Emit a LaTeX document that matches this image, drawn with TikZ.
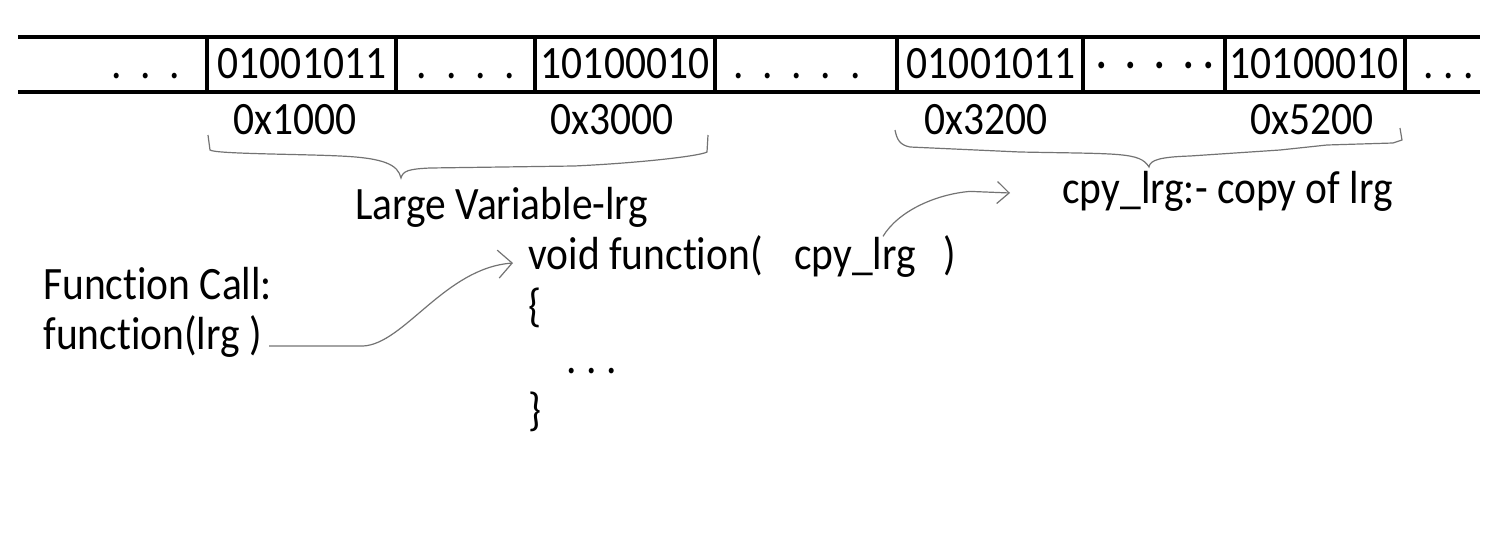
\documentclass[tikz,border=0pt]{standalone}
\usepackage{fontspec}
\setmainfont[Ligatures=NoCommon,FakeStretch=0.894]{Carlito}
\usetikzlibrary{arrows.meta}

\begin{document}
\begin{tikzpicture}[x=0.5pt,y=-0.5pt,
   font=\fontsize{23.2pt}{28pt}\selectfont,
   txt/.style={inner sep=0pt,anchor=base},
   txtl/.style={inner sep=0pt,anchor=base west},
   hand/.style={black!55,line width=0.6pt},
   rule/.style={line width=2pt},
   wall/.style={line width=1.6pt}]
   \useasboundingbox (0,0) rectangle (1500,541);
   % memory strip
   \draw[rule] (18,37) -- (1480,37);
   \draw[rule] (18,92) -- (1480,92);
   \foreach \x in {207,396,535,715,897,1083,1225,1405} {
    \draw[wall] (\x,37) -- (\x,92);
   }
   \foreach \x/\t [count=\i] in {146/{.~~.~~.},302/01001011,466/{.~~.~~.~~.},
      625/10100010,797/{.~~.~~.~~.~~.},991/01001011,1155/{·~~·~~·~~·~·},
      1314/10100010,1449/{.~.~.}} {
    \node[txt] (cell\i) at (\x,78) {\t};
   }
   \foreach \x/\t in {295/1000,612/3000,986/3200,1312/5200} {
    \node[txt] (a\t) at (\x,134) {0x\t};
   }
   % braces
   \draw[hand] (208,135) -- (210,150) .. controls (215,154) and (300,154) .. (340,156)
      .. controls (385,158) and (398,165) .. (401,178)
      .. controls (403,171) and (408,169) .. (430,168) -- (574,166)
      .. controls (640,163) and (700,156) .. (707,152) -- (708,135);
   \draw[hand] (895,130) .. controls (897,140) and (900,145) .. (910,147) -- (1020,152)
      .. controls (1120,154) and (1140,152) .. (1149,167)
      .. controls (1150,160) and (1160,157) .. (1190,156) -- (1280,150)
      -- (1327,145) -- (1393,143) -- (1402,140) -- (1400,128);
   \node[txtl] (large) at (355,219) {Large Variable-lrg};
   \node[txtl] (copy) at (1062,203) {cpy\_lrg:- copy of lrg};
   % function
   \node[txtl] (void) at (528,269) {void function(};
   \node[txt] (cpy) at (855,269) {cpy\_lrg};
   \node[txt] (close) at (950,269) {)};
   \node[txtl] (open) at (528,321) {\{};
   \node[txtl] (body) at (566,373) {.~.~.};
   \node[txtl] (end) at (528,425) {\}};
   \node[txtl] (callt) at (43,299) {Function Call:};
   \node[txtl] (call) at (43,349) {function(lrg )};
   % arrows
   \draw[hand,-{Straight Barb[length=7pt,width=14pt]}]
      ([xshift=3.5pt,yshift=1.5pt]call.base east) -- ++(94,0)
      .. controls +(41,-2) and +(-68,5) .. ([xshift=-7.5pt,yshift=3pt]void.base west);
   \draw[hand,-{Straight Barb[length=6pt,width=11pt]}]
      ([xshift=14pt]cpy.north) .. controls +(15,-25) and +(-35,3) .. ++(87,-45)
      -- ([xshift=-26pt,yshift=5pt]copy.base west);
  \end{tikzpicture}
\end{document}
